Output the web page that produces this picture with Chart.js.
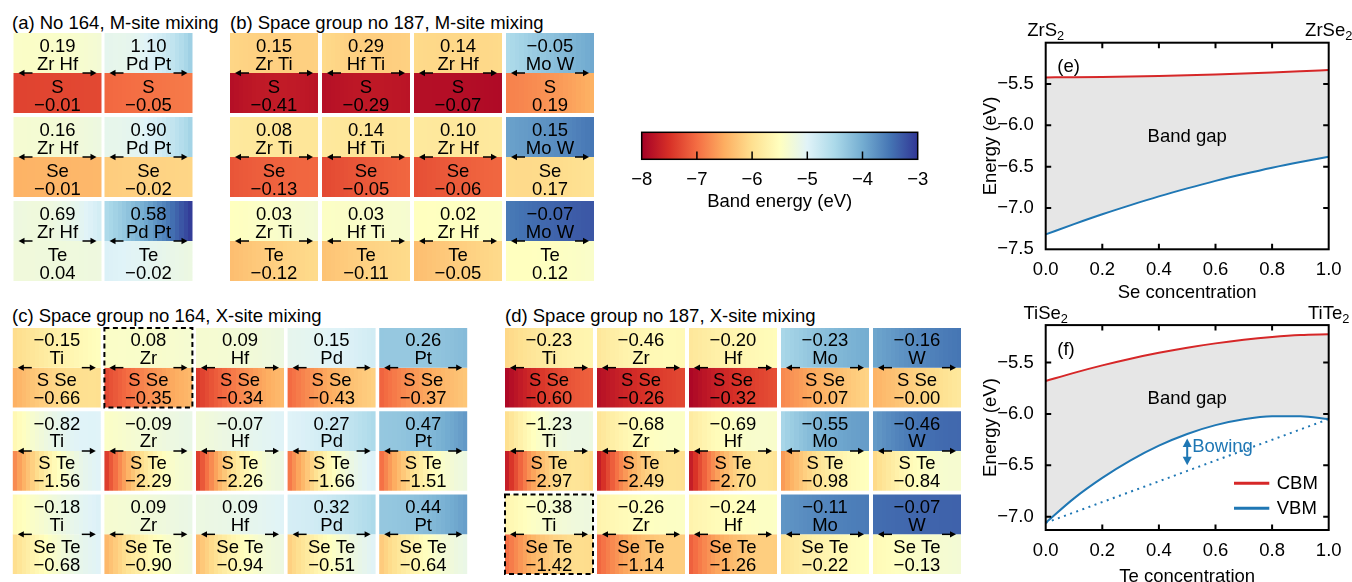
<!DOCTYPE html>
<html>
<head>
<meta charset="utf-8">
<title>Band edge bowing in MX2 alloys</title>
<script src="https://cdn.jsdelivr.net/npm/chart.js@4.4.1/dist/chart.umd.min.js"></script>
<style>
  html, body { margin: 0; padding: 0; background: #fff; width: 1352px; height: 582px; overflow: hidden; }
  #fig { position: relative; width: 1352px; height: 582px; overflow: hidden;
         font-family: "Liberation Sans", Arial, Helvetica, sans-serif; color: #000; }
  #fig canvas { position: absolute; }
  .ttl { position: absolute; font-size: 18.5px; line-height: 18px; white-space: nowrap; }
</style>
</head>
<body>
<div id="fig">
  <div class="ttl" style="left:12px;top:13.5px">(a) No 164, M-site mixing</div>
  <div class="ttl" style="left:230px;top:13.5px">(b) Space group no 187, M-site mixing</div>
  <div class="ttl" style="left:12px;top:307px">(c) Space group no 164, X-site mixing</div>
  <div class="ttl" style="left:505px;top:307px">(d) Space group no 187, X-site mixing</div>

  <canvas id="panelA" width="182" height="252" style="left:12px;top:31px"></canvas>
  <canvas id="panelB" width="368" height="252" style="left:228px;top:31px"></canvas>
  <canvas id="panelC" width="458" height="250" style="left:11px;top:326px"></canvas>
  <canvas id="panelD" width="460" height="250" style="left:503px;top:326px"></canvas>
  <canvas id="colorbar" width="320" height="93" style="left:620px;top:120px"></canvas>
  <canvas id="panelE" width="372" height="304" style="left:980px;top:0px"></canvas>
  <canvas id="panelF" width="372" height="286" style="left:980px;top:302px"></canvas>
</div>

<script>
// ---------------------------------------------------------------------------
// Data: band edge energies (eV, vs vacuum) of the end compounds and the
// bowing parameters of the conduction band minimum (CBM, upper half of each
// cell) and valence band maximum (VBM, lower half). Rows x columns.
// ---------------------------------------------------------------------------

// (a) space group 164, M-site mixing
const A_PAIRS = ['Zr Hf', 'Pd Pt'];
const A_ANIONS = ['S', 'Se', 'Te'];
const A_CBM_BOW = [[0.19, 1.10], [0.16, 0.90], [0.69, 0.58]];
const A_VBM_BOW = [[-0.01, -0.05], [-0.01, -0.02], [0.04, -0.02]];
const A_CBM_START = [[-5.42, -5.08], [-5.33, -5.10], [-5.20, -4.55]];
const A_CBM_END = [[-5.30, -4.35], [-5.20, -4.40], [-4.85, -3.00]];
const A_VBM_START = [[-7.35, -7.05], [-6.45, -6.20], [-5.25, -4.95]];
const A_VBM_END = [[-7.30, -6.90], [-6.40, -6.10], [-5.22, -5.20]];

// (b) space group 187, M-site mixing
const B_PAIRS = ['Zr Ti', 'Hf Ti', 'Zr Hf', 'Mo W'];
const B_ANIONS = ['S', 'Se', 'Te'];
const B_CBM_BOW = [[0.15, 0.29, 0.14, -0.05], [0.08, 0.14, 0.10, 0.15], [0.03, 0.03, 0.02, -0.07]];
const B_VBM_BOW = [[-0.41, -0.29, -0.07, 0.19], [-0.13, -0.05, -0.06, 0.17], [-0.12, -0.11, -0.05, 0.12]];
const B_CBM_START = [[-6.10, -6.05, -6.05, -4.55], [-5.85, -5.85, -5.85, -3.90], [-5.50, -5.45, -5.50, -3.55]];
const B_CBM_END = [[-6.15, -6.15, -6.05, -3.95], [-5.90, -5.90, -5.85, -3.50], [-5.30, -5.35, -5.45, -3.25]];
const B_VBM_START = [[-7.85, -7.85, -7.85, -6.85], [-7.20, -7.30, -7.25, -6.05], [-6.35, -6.30, -6.35, -5.50]];
const B_VBM_END = [[-7.80, -7.80, -7.90, -6.45], [-7.05, -7.05, -7.05, -5.95], [-6.05, -6.05, -6.05, -5.40]];

// (c) space group 164, X-site mixing
const C_METALS = ['Ti', 'Zr', 'Hf', 'Pd', 'Pt'];
const C_PAIRS = ['S Se', 'S Te', 'Se Te'];
const C_CBM_BOW = [[-0.15, 0.08, 0.09, 0.15, 0.26], [-0.82, -0.09, -0.07, 0.27, 0.47], [-0.18, 0.09, 0.09, 0.32, 0.44]];
const C_VBM_BOW = [[-0.66, -0.35, -0.34, -0.43, -0.37], [-1.56, -2.29, -2.26, -1.66, -1.51], [-0.68, -0.90, -0.94, -0.51, -0.64]];
const C_CBM_START = [[-6.05, -5.42, -5.35, -5.10, -4.30], [-5.65, -5.45, -5.30, -5.00, -4.30], [-5.60, -5.35, -5.20, -4.90, -4.30]];
const C_CBM_END = [[-5.50, -5.33, -5.20, -4.85, -4.15], [-5.00, -5.15, -5.00, -4.50, -3.80], [-4.95, -5.15, -5.00, -4.50, -3.85]];
const C_VBM_START = [[-6.50, -7.32, -7.45, -7.05, -7.10], [-6.85, -7.50, -7.50, -7.00, -7.05], [-6.05, -6.45, -6.40, -6.20, -6.25]];
const C_VBM_END = [[-6.00, -6.38, -6.35, -6.15, -6.25], [-5.00, -5.30, -5.20, -4.95, -5.20], [-5.00, -5.25, -5.20, -5.00, -5.15]];

// (d) space group 187, X-site mixing
const D_METALS = ['Ti', 'Zr', 'Hf', 'Mo', 'W'];
const D_PAIRS = ['S Se', 'S Te', 'Se Te'];
const D_CBM_BOW = [[-0.23, -0.46, -0.20, -0.23, -0.16], [-1.23, -0.68, -0.69, -0.55, -0.46], [-0.38, -0.26, -0.24, -0.11, -0.07]];
const D_VBM_BOW = [[-0.60, -0.26, -0.32, -0.07, -0.00], [-2.97, -2.49, -2.70, -0.98, -0.84], [-1.42, -1.14, -1.26, -0.22, -0.13]];
const D_CBM_START = [[-6.10, -5.90, -5.90, -4.50, -3.95], [-6.05, -5.95, -5.85, -4.50, -3.85], [-5.68, -5.70, -5.70, -3.80, -3.45]];
const D_CBM_END = [[-5.65, -5.60, -5.55, -4.00, -3.50], [-5.20, -5.45, -5.40, -3.85, -3.40], [-5.22, -5.45, -5.45, -3.55, -3.35]];
const D_VBM_START = [[-7.95, -7.85, -7.95, -6.80, -6.45], [-7.80, -7.80, -7.80, -6.70, -6.10], [-7.06, -7.10, -7.15, -5.95, -5.60]];
const D_VBM_END = [[-7.10, -7.30, -7.25, -6.10, -5.85], [-6.05, -6.00, -5.95, -5.50, -5.35], [-6.05, -6.20, -6.20, -5.50, -5.30]];

// colour bar
const CB_RANGE = [-8, -3];
const CB_TICKS = [-8, -7, -6, -5, -4, -3];

// (e) ZrS2 -> ZrSe2 band edges vs Se concentration
const E_X = [0, 0.1, 0.2, 0.3, 0.4, 0.5, 0.6, 0.7, 0.8, 0.9, 1.0];
const E_CBM = [-5.420, -5.418, -5.415, -5.410, -5.403, -5.395, -5.385, -5.374, -5.361, -5.346, -5.330];
const E_VBM = [-7.320, -7.195, -7.076, -6.965, -6.860, -6.763, -6.672, -6.589, -6.512, -6.443, -6.380];
const E_Y_TICKS = [-7.5, -7.0, -6.5, -6.0, -5.5];
const E_ENDS = ['ZrS2', 'ZrSe2'];

// (f) TiSe2 -> TiTe2 band edges vs Te concentration
const F_X = [0, 0.1, 0.2, 0.3, 0.4, 0.5, 0.6, 0.7, 0.8, 0.9, 1.0];
const F_CBM = [-5.680, -5.600, -5.527, -5.462, -5.405, -5.355, -5.313, -5.278, -5.251, -5.232, -5.225];
const F_VBM = [-7.060, -6.822, -6.623, -6.452, -6.309, -6.195, -6.109, -6.052, -6.023, -6.022, -6.050];
const F_LINE_X = [0, 1];
const F_VBM_LINEAR = [-7.060, -6.050];
const F_Y_TICKS = [-7.0, -6.5, -6.0, -5.5];
const F_ENDS = ['TiSe2', 'TiTe2'];
const F_BOWING_ARROW = [-6.24, -6.50];

// ---------------------------------------------------------------------------
const FONT = '"Liberation Sans", Arial, Helvetica, sans-serif';
const FS = 18.5;
const RED = '#d62728';
const BLUE = '#1f77b4';
const GAP_GREY = '#e6e6e6';

Chart.defaults.font.family = FONT;
Chart.defaults.font.size = FS;
Chart.defaults.color = '#000';
Chart.defaults.animation = false;
Chart.defaults.plugins.legend.display = false;
Chart.defaults.plugins.tooltip.enabled = false;

// RdYlBu colour map
const RDYLBU = ['#a50026', '#d73027', '#f46d43', '#fdae61', '#fee090', '#ffffbf',
                '#e0f3f8', '#abd9e9', '#74add1', '#4575b4', '#313695'];
const CMAP = RDYLBU.map(h => [1, 3, 5].map(k => parseInt(h.substr(k, 2), 16)));

function bandColor(e) {
  let t = (e - CB_RANGE[0]) / (CB_RANGE[1] - CB_RANGE[0]);
  t = Math.max(0, Math.min(1, t));
  const f = t * (CMAP.length - 1);
  const i = Math.min(CMAP.length - 2, Math.floor(f));
  const u = f - i;
  const a = CMAP[i], b = CMAP[i + 1];
  const c = a.map((v, k) => Math.round(v + (b[k] - v) * u));
  return `rgb(${c[0]},${c[1]},${c[2]})`;
}

// band edge across the alloy, including the bowing term
function bowed(e0, e1, b, x) {
  return (1 - x) * e0 + x * e1 - b * x * (1 - x);
}

const STEPS = 20;
function cellGradient(ctx, left, right, e0, e1, b) {
  const g = ctx.createLinearGradient(left, 0, right, 0);
  for (let k = 0; k < STEPS; k++) {
    const c = bandColor(bowed(e0, e1, b, (k + 0.5) / STEPS));
    g.addColorStop(k / STEPS, c);
    g.addColorStop((k + 1) / STEPS, c);
  }
  return g;
}

function fmtSigned(v, d) {
  const neg = v < 0 || Object.is(v, -0);
  return (neg ? '\u2212' : '') + Math.abs(v).toFixed(d);
}

function arrow(c, x0, x1, y, head, half) {
  const dir = Math.sign(x1 - x0);
  c.beginPath();
  c.moveTo(x0, y);
  c.lineTo(x1 - dir * head * 0.7, y);
  c.stroke();
  c.beginPath();
  c.moveTo(x1, y);
  c.lineTo(x1 - dir * head, y - half);
  c.lineTo(x1 - dir * head, y + half);
  c.closePath();
  c.fill();
}

// ---------------------------------------------------------------------------
// Alloy grids: each cell is two floating bars (CBM on top, VBM below)
// ---------------------------------------------------------------------------
function cellTextPlugin(spec) {
  return {
    id: 'cellText',
    afterDatasetsDraw(chart) {
      const c = chart.ctx;
      c.save();
      c.font = FS + 'px ' + FONT;
      c.fillStyle = '#000';
      c.strokeStyle = '#000';
      c.textAlign = 'center';
      c.textBaseline = 'alphabetic';
      const dy = spec.textDy;
      for (let r = 0; r < 3; r++) {
        for (let i = 0; i < spec.cols.length; i++) {
          const top = chart.getDatasetMeta(2 * r).data[i].getProps(['x', 'y', 'base', 'width'], true);
          const bot = chart.getDatasetMeta(2 * r + 1).data[i].getProps(['x', 'y', 'base', 'width'], true);
          const x = top.x, left = x - top.width / 2, right = x + top.width / 2;
          const y0 = Math.min(top.y, top.base);
          const split = Math.max(top.y, top.base);
          const y1 = Math.max(bot.y, bot.base);
          c.fillText(fmtSigned(spec.cbmBow[r][i], 2), x, split + dy[0]);
          c.fillText(spec.topText(r, i), x, split + dy[1]);
          c.fillText(spec.botText(r, i), x, split + dy[2]);
          c.fillText(fmtSigned(spec.vbmBow[r][i], 2), x, split + dy[3]);
          c.lineWidth = 1.5;
          arrow(c, left + 19, left + 5, split, 6, 3.2);
          arrow(c, right - 19, right - 5, split, 6, 3.2);
          if (spec.dashed && spec.dashed[0] === r && spec.dashed[1] === i) {
            c.save();
            c.lineWidth = 2;
            c.setLineDash([5, 3.5]);
            c.strokeRect(left, y0, right - left, y1 - y0);
            c.restore();
          }
        }
      }
      c.restore();
    }
  };
}

function buildGrid(canvasId, spec) {
  const n = spec.cols.length;
  const pct = spec.cellW / spec.pitch;
  const gap = spec.gap;
  const fill = (L, R, B) => (ctx) => {
    const chart = ctx.chart, i = ctx.dataIndex;
    if (i === undefined || !chart.chartArea) return bandColor(L[0]);
    const xs = chart.scales.x;
    const cx = xs.getPixelForValue(i);
    const w = xs.width / n * pct;
    return cellGradient(chart.ctx, cx - w / 2, cx + w / 2, L[i], R[i], B[i]);
  };
  const common = { grouped: false, barPercentage: pct, categoryPercentage: 1, borderWidth: 0 };
  const datasets = [];
  for (let r = 0; r < 3; r++) {
    datasets.push(Object.assign({
      label: 'CBM',
      data: spec.cols.map(() => [r + gap, r + 0.5]),
      backgroundColor: fill(spec.cbmStart[r], spec.cbmEnd[r], spec.cbmBow[r])
    }, common));
    datasets.push(Object.assign({
      label: 'VBM',
      data: spec.cols.map(() => [r + 0.5, r + 1 - gap]),
      backgroundColor: fill(spec.vbmStart[r], spec.vbmEnd[r], spec.vbmBow[r])
    }, common));
  }
  new Chart(document.getElementById(canvasId), {
    type: 'bar',
    data: { labels: spec.cols, datasets },
    options: {
      responsive: false,
      animation: false,
      layout: { padding: 0 },
      scales: {
        x: { display: false },
        y: { display: false, type: 'linear', min: 0, max: 3, reverse: true }
      }
    },
    plugins: [cellTextPlugin(spec)]
  });
}

const DY_AB = [-20.7, -3.3, 20, 37.7];
const DY_CD = [-21.3, -3.7, 18.3, 36.3];

buildGrid('panelA', {
  cols: A_PAIRS, cellW: 88, pitch: 91, gap: 2 / 84, textDy: DY_AB,
  cbmBow: A_CBM_BOW, vbmBow: A_VBM_BOW,
  cbmStart: A_CBM_START, cbmEnd: A_CBM_END, vbmStart: A_VBM_START, vbmEnd: A_VBM_END,
  topText: (r, i) => A_PAIRS[i], botText: (r, i) => A_ANIONS[r]
});
buildGrid('panelB', {
  cols: B_PAIRS, cellW: 88, pitch: 92, gap: 2 / 84, textDy: DY_AB,
  cbmBow: B_CBM_BOW, vbmBow: B_VBM_BOW,
  cbmStart: B_CBM_START, cbmEnd: B_CBM_END, vbmStart: B_VBM_START, vbmEnd: B_VBM_END,
  topText: (r, i) => B_PAIRS[i], botText: (r, i) => B_ANIONS[r]
});
buildGrid('panelC', {
  cols: C_METALS, cellW: 88, pitch: 91.6, gap: 1.9 / 83.33, textDy: DY_CD,
  cbmBow: C_CBM_BOW, vbmBow: C_VBM_BOW,
  cbmStart: C_CBM_START, cbmEnd: C_CBM_END, vbmStart: C_VBM_START, vbmEnd: C_VBM_END,
  topText: (r, i) => C_METALS[i], botText: (r, i) => C_PAIRS[r],
  dashed: [0, 1]
});
buildGrid('panelD', {
  cols: D_METALS, cellW: 88, pitch: 92, gap: 1.9 / 83.33, textDy: DY_CD,
  cbmBow: D_CBM_BOW, vbmBow: D_VBM_BOW,
  cbmStart: D_CBM_START, cbmEnd: D_CBM_END, vbmStart: D_VBM_START, vbmEnd: D_VBM_END,
  topText: (r, i) => D_METALS[i], botText: (r, i) => D_PAIRS[r],
  dashed: [2, 0]
});

// ---------------------------------------------------------------------------
// Colour bar
// ---------------------------------------------------------------------------
new Chart(document.getElementById('colorbar'), {
  type: 'bar',
  data: {
    labels: ['Band energy'],
    datasets: [{
      data: [CB_RANGE],
      borderWidth: 0,
      barPercentage: 1,
      categoryPercentage: 1,
      backgroundColor: (ctx) => {
        const chart = ctx.chart;
        if (!chart.chartArea) return bandColor(-5.5);
        const xs = chart.scales.x;
        const l = xs.getPixelForValue(CB_RANGE[0]), r = xs.getPixelForValue(CB_RANGE[1]);
        const g = chart.ctx.createLinearGradient(l, 0, r, 0);
        RDYLBU.forEach((c, k) => g.addColorStop(k / (RDYLBU.length - 1), c));
        return g;
      }
    }]
  },
  options: {
    indexAxis: 'y',
    responsive: false,
    animation: false,
    layout: { padding: { left: 21.7, right: 22.3, top: 12.3, bottom: 0 } },
    scales: {
      x: {
        type: 'linear', min: CB_RANGE[0], max: CB_RANGE[1],
        grid: { display: false, drawTicks: false },
        border: { display: false },
        afterBuildTicks: s => { s.ticks = CB_TICKS.map(v => ({ value: v })); },
        ticks: { padding: 9.5, maxRotation: 0, callback: v => fmtSigned(v, 0) },
        title: { display: true, text: 'Band energy (eV)', padding: 0 },
        afterFit: s => { s.height = 53.7; }
      },
      y: { display: false }
    }
  },
  plugins: [{
    id: 'cbFrame',
    afterDatasetsDraw(chart) {
      const { ctx: c, chartArea: a, scales: { x } } = chart;
      c.save();
      c.strokeStyle = '#000';
      c.lineWidth = 1.5;
      c.strokeRect(a.left, a.top, a.width, a.height);
      c.beginPath();
      CB_TICKS.forEach(v => {
        if (v === CB_RANGE[0] || v === CB_RANGE[1]) return;
        const px = x.getPixelForValue(v);
        c.moveTo(px, a.bottom);
        c.lineTo(px, a.bottom - 7.7);
      });
      c.stroke();
      c.restore();
    }
  }]
});

// ---------------------------------------------------------------------------
// Band edge plots (e), (f)
// ---------------------------------------------------------------------------
function drawFormula(c, text, cx, y) {
  const base = text.slice(0, -1), sub = text.slice(-1);
  c.font = FS + 'px ' + FONT;
  const w1 = c.measureText(base).width;
  c.font = '12.8px ' + FONT;
  const w2 = c.measureText(sub).width;
  const x = cx - (w1 + w2) / 2;
  c.textAlign = 'left';
  c.font = FS + 'px ' + FONT;
  c.fillText(base, x, y);
  c.font = '12.8px ' + FONT;
  c.fillText(sub, x + w1, y + 4);
}

const framePlugin = {
  id: 'plotFrame',
  afterDatasetsDraw(chart) {
    const { ctx: c, chartArea: a, scales: { x, y } } = chart;
    const L = 5.5;
    c.save();
    c.strokeStyle = '#000';
    c.lineWidth = 2;
    c.beginPath();
    x.ticks.forEach(t => {
      const px = x.getPixelForValue(t.value);
      if (px <= a.left + 1 || px >= a.right - 1) return;
      c.moveTo(px, a.bottom); c.lineTo(px, a.bottom - L);
      c.moveTo(px, a.top); c.lineTo(px, a.top + L);
    });
    y.ticks.forEach(t => {
      const py = y.getPixelForValue(t.value);
      if (py <= a.top + 1 || py >= a.bottom - 1) return;
      c.moveTo(a.left, py); c.lineTo(a.left + L, py);
      c.moveTo(a.right, py); c.lineTo(a.right - L, py);
    });
    c.stroke();
    c.strokeRect(a.left, a.top, a.width, a.height);
    c.restore();
  }
};

function notesPlugin(spec) {
  return {
    id: 'plotNotes',
    afterDraw(chart) {
      const { ctx: c, chartArea: a, scales: { x, y } } = chart;
      c.save();
      c.fillStyle = '#000';
      c.textBaseline = 'alphabetic';
      // end compounds above the frame
      drawFormula(c, spec.ends[0], x.getPixelForValue(0), a.top - 6.5);
      drawFormula(c, spec.ends[1], x.getPixelForValue(1), a.top - 6.5);
      c.font = FS + 'px ' + FONT;
      c.textAlign = 'left';
      c.fillText(spec.tag, a.left + 11.6, a.top + 29.5);
      c.textAlign = 'center';
      c.fillText('Band gap', x.getPixelForValue(0.5), y.getPixelForValue(spec.gapLabelY));
      if (spec.bowing) {
        const px = x.getPixelForValue(0.5);
        const y0 = y.getPixelForValue(spec.bowing[0]);
        const y1 = y.getPixelForValue(spec.bowing[1]);
        c.fillStyle = BLUE;
        c.strokeStyle = BLUE;
        c.lineWidth = 2;
        c.beginPath(); c.moveTo(px, y0 + 6); c.lineTo(px, y1 - 6); c.stroke();
        c.beginPath(); c.moveTo(px, y0); c.lineTo(px - 4.5, y0 + 8.5); c.lineTo(px + 4.5, y0 + 8.5); c.closePath(); c.fill();
        c.beginPath(); c.moveTo(px, y1); c.lineTo(px - 4.5, y1 - 8.5); c.lineTo(px + 4.5, y1 - 8.5); c.closePath(); c.fill();
        c.textAlign = 'left';
        c.fillText('Bowing', px + 5, y.getPixelForValue(-6.374));
      }
      if (spec.legend) {
        const items = chart.data.datasets.slice(0, 2);
        items.forEach((ds, k) => {
          const ly = a.bottom - 46.7 + k * 25;
          c.strokeStyle = ds.borderColor;
          c.lineWidth = 3;
          c.beginPath(); c.moveTo(a.right - 94.7, ly); c.lineTo(a.right - 59.4, ly); c.stroke();
          c.fillStyle = '#000';
          c.textAlign = 'left';
          c.textBaseline = 'middle';
          c.fillText(ds.label, a.right - 52, ly + 1);
        });
      }
      c.restore();
    }
  };
}

function buildBandPlot(canvasId, spec) {
  const pts = (xs, ys) => xs.map((v, i) => ({ x: v, y: ys[i] }));
  const datasets = [
    { label: 'CBM', data: pts(spec.x, spec.cbm), borderColor: RED, borderWidth: 2,
      pointRadius: 0, fill: '+1', backgroundColor: GAP_GREY, cubicInterpolationMode: 'monotone' },
    { label: 'VBM', data: pts(spec.x, spec.vbm), borderColor: BLUE, borderWidth: 2,
      pointRadius: 0, fill: false, cubicInterpolationMode: 'monotone' }
  ];
  if (spec.vbmLinear) {
    datasets.push({ label: 'VBM (linear)', data: pts(spec.lineX, spec.vbmLinear), borderColor: BLUE,
      borderWidth: 2, borderDash: [2, 4.5], pointRadius: 0, fill: false });
  }
  new Chart(document.getElementById(canvasId), {
    type: 'line',
    data: { datasets },
    options: {
      responsive: false,
      animation: false,
      layout: { padding: { left: 0, right: 23.3, top: spec.padTop, bottom: 0 } },
      plugins: { filler: { drawTime: 'beforeDatasetsDraw' } },
      scales: {
        x: {
          type: 'linear', min: 0, max: 1,
          grid: { display: false, drawTicks: false },
          border: { display: false },
          ticks: { stepSize: 0.2, padding: 9.5, maxRotation: 0, callback: v => Number(v).toFixed(1) },
          title: { display: true, text: spec.xTitle, padding: 0 },
          afterFit: s => { s.height = spec.xAxisH; }
        },
        y: {
          type: 'linear', min: spec.yMin, max: spec.yMax,
          grid: { display: false, drawTicks: false },
          border: { display: false },
          afterBuildTicks: s => { s.ticks = spec.yTicks.map(v => ({ value: v })); },
          ticks: { padding: 12, callback: v => fmtSigned(v, 1) },
          title: { display: true, text: 'Energy (eV)', padding: 0 },
          afterFit: s => { s.width = 65.7; }
        }
      }
    },
    plugins: [framePlugin, notesPlugin(spec)]
  });
}

buildBandPlot('panelE', {
  x: E_X, cbm: E_CBM, vbm: E_VBM,
  yMin: -7.5, yMax: -5.0, yTicks: E_Y_TICKS,
  padTop: 42.7, xAxisH: 304 - 249.3,
  xTitle: 'Se concentration', ends: E_ENDS, tag: '(e)', gapLabelY: -6.2
});

buildBandPlot('panelF', {
  x: F_X, cbm: F_CBM, vbm: F_VBM, lineX: F_LINE_X, vbmLinear: F_VBM_LINEAR,
  yMin: -7.13, yMax: -5.135, yTicks: F_Y_TICKS,
  padTop: 21.3, xAxisH: 286 - 228,
  xTitle: 'Te concentration', ends: F_ENDS, tag: '(f)', gapLabelY: -5.90,
  bowing: F_BOWING_ARROW, legend: true
});
</script>
</body>
</html>
